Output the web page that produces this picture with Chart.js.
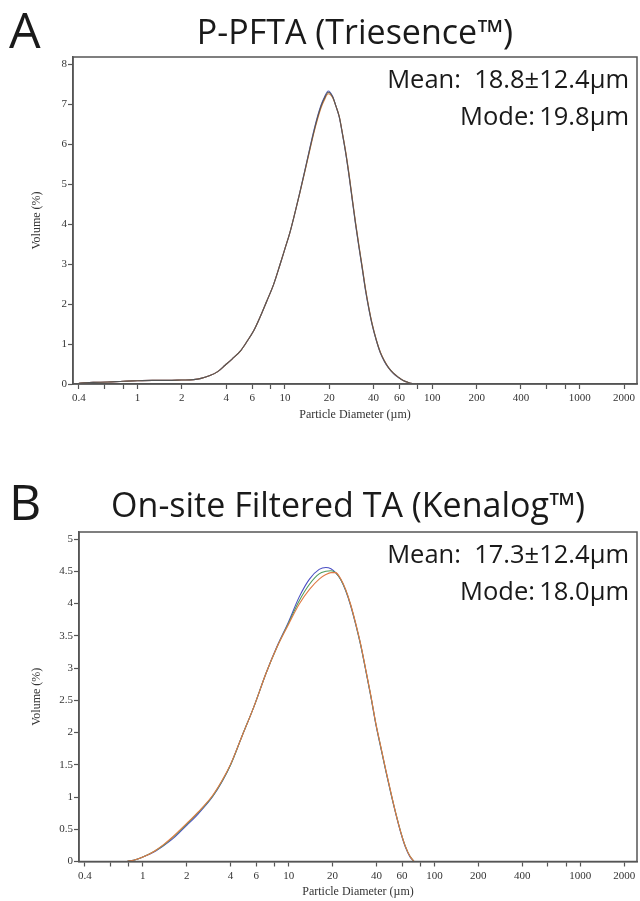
<!DOCTYPE html>
<html>
<head>
<meta charset="utf-8">
<title>Particle size distribution</title>
<script src="https://cdn.jsdelivr.net/npm/chart.js@4.4.0/dist/chart.umd.min.js"></script>
<style>
  body { margin: 0; background: #fff; }
  canvas { display: block; }
</style>
</head>
<body>
<canvas id="chartA" width="640" height="450"></canvas>
<canvas id="chartB" width="640" height="451"></canvas>

<script>
// ---- data ----
// panel A: P-PFTA (Triesence), three overlapping runs
const diamA = [0.4, 0.5, 0.63, 0.8, 1.0, 1.26, 1.6, 2.0, 2.4, 2.7, 3.1, 3.5, 3.93, 4.4, 5.0, 5.5, 6.14, 6.8, 7.53, 8.4,
  9.27, 10.0, 10.8, 11.7, 12.6, 13.6, 14.7, 15.7, 16.7, 17.6, 18.5, 19.7, 21.1, 22.2, 23.4, 24.6, 25.9, 27.3, 28.7, 30.2,
  31.8, 33.5, 35.2, 37.1, 39.1, 41.7, 44.4, 47.4, 50.5, 54.5, 58.9, 63.5, 68.7, 73.5, 78.2];
const volA_grey = [0.02, 0.04, 0.05, 0.07, 0.08, 0.09, 0.09, 0.10, 0.11, 0.14, 0.21, 0.31, 0.47, 0.63, 0.83, 1.05, 1.33, 1.68, 2.07, 2.50,
  2.99, 3.38, 3.78, 4.28, 4.77, 5.30, 5.85, 6.30, 6.68, 6.95, 7.14, 7.30, 7.18, 6.95, 6.68, 6.25, 5.77, 5.20, 4.60, 4.00,
  3.44, 2.90, 2.37, 1.90, 1.49, 1.10, 0.79, 0.57, 0.41, 0.27, 0.17, 0.09, 0.04, 0.01, 0];
const volA_orange = [0.02, 0.04, 0.05, 0.07, 0.08, 0.09, 0.09, 0.10, 0.11, 0.14, 0.21, 0.31, 0.47, 0.63, 0.83, 1.05, 1.33, 1.68, 2.07, 2.50,
  2.99, 3.38, 3.78, 4.28, 4.76, 5.28, 5.82, 6.27, 6.64, 6.91, 7.10, 7.26, 7.16, 6.95, 6.69, 6.27, 5.80, 5.23, 4.63, 4.03,
  3.47, 2.93, 2.40, 1.92, 1.51, 1.11, 0.80, 0.58, 0.41, 0.27, 0.17, 0.09, 0.04, 0.01, 0];
const volA_blue = [0.02, 0.04, 0.05, 0.07, 0.08, 0.09, 0.09, 0.10, 0.11, 0.14, 0.21, 0.31, 0.47, 0.63, 0.83, 1.05, 1.33, 1.68, 2.07, 2.50,
  2.99, 3.38, 3.78, 4.28, 4.78, 5.31, 5.87, 6.33, 6.71, 6.98, 7.17, 7.33, 7.19, 6.95, 6.67, 6.24, 5.76, 5.18, 4.58, 3.98,
  3.42, 2.88, 2.35, 1.88, 1.48, 1.09, 0.78, 0.56, 0.40, 0.26, 0.16, 0.09, 0.04, 0.01, 0];

// panel B: on-site filtered TA (Kenalog), three runs
const diamB = [0.78, 0.9, 1.0, 1.2, 1.4, 1.6, 1.8, 2.0, 2.4, 3.0, 3.5, 4.0, 4.8, 5.8, 7.0, 8.3, 10, 11.8, 13.9, 16.2,
  18.0, 19.5, 21.0, 22.8, 24.6, 26.6, 28.8, 31.2, 33.8, 36.6, 39.6, 42.9, 46.4, 50.2, 54.3, 58.7, 63.3, 68.0, 72.5];
const volB_blue = [0, 0.03, 0.07, 0.15, 0.25, 0.35, 0.46, 0.56, 0.74, 1.00, 1.24, 1.50, 1.95, 2.41, 2.92, 3.33, 3.72, 4.10, 4.38, 4.53,
  4.56, 4.54, 4.48, 4.37, 4.20, 3.97, 3.68, 3.35, 2.96, 2.56, 2.13, 1.76, 1.40, 1.06, 0.74, 0.45, 0.22, 0.07, 0];
const volB_green = [0, 0.03, 0.07, 0.16, 0.26, 0.37, 0.48, 0.58, 0.76, 1.01, 1.25, 1.50, 1.95, 2.41, 2.92, 3.32, 3.70, 4.04, 4.30, 4.46,
  4.50, 4.51, 4.48, 4.37, 4.21, 3.98, 3.69, 3.36, 2.97, 2.57, 2.14, 1.77, 1.41, 1.07, 0.75, 0.46, 0.23, 0.08, 0];
const volB_orange = [0, 0.03, 0.07, 0.16, 0.27, 0.38, 0.49, 0.59, 0.77, 1.02, 1.26, 1.51, 1.95, 2.41, 2.92, 3.32, 3.68, 3.99, 4.22, 4.38,
  4.45, 4.48, 4.48, 4.38, 4.22, 3.99, 3.70, 3.37, 2.98, 2.58, 2.15, 1.78, 1.42, 1.08, 0.75, 0.46, 0.23, 0.08, 0];

// axis ticks
const xTicks = [0.4, 0.6, 0.8, 1, 2, 4, 6, 8, 10, 20, 40, 60, 80, 100, 200, 400, 600, 800, 1000, 2000];
const xLabels = [0.4, 1, 2, 4, 6, 10, 20, 40, 60, 100, 200, 400, 1000, 2000];
const yTicksA = [0, 1, 2, 3, 4, 5, 6, 7, 8];
const yTicksB = [0, 0.5, 1, 1.5, 2, 2.5, 3, 3.5, 4, 4.5, 5];

const axisColor = '#555';
const serif = '"Liberation Serif", "Times New Roman", serif';
const sans = '"Open Sans", "Noto Sans", sans-serif';

function pts(xs, ys) {
  return xs.map((x, i) => ({ x: x, y: ys[i] }));
}

function line(label, xs, ys, color) {
  return {
    label: label,
    data: pts(xs, ys),
    borderColor: color,
    borderWidth: 1.1,
    pointRadius: 0,
    cubicInterpolationMode: 'monotone',
    fill: false
  };
}

// frame + panel letter, title, mean/mode text
const decor = {
  id: 'decor',
  afterDraw(chart, args, o) {
    const ctx = chart.ctx, a = chart.chartArea;
    ctx.save();
    ctx.strokeStyle = axisColor;
    ctx.lineWidth = 1.5;
    ctx.strokeRect(a.left, a.top, a.right - a.left, a.bottom - a.top);
    ctx.fillStyle = '#1a1a1a';
    ctx.textBaseline = 'alphabetic';
    ctx.font = '50px ' + sans;
    ctx.textAlign = 'left';
    ctx.fillText(o.letter, o.letterX, o.letterY);
    ctx.font = '34px ' + sans;
    ctx.textAlign = 'center';
    ctx.fillText(o.title, (a.left + a.right) / 2 + o.titleDX, o.titleY);
    ctx.font = '25.5px ' + sans;
    ctx.textAlign = 'right';
    ctx.fillText(o.mean, a.right - 8, a.top + 31);
    ctx.fillText(o.mode, a.right - 8, a.top + 68);
    ctx.restore();
  }
};

function makeChart(id, datasets, opt) {
  return new Chart(document.getElementById(id), {
    type: 'line',
    data: { datasets: datasets },
    plugins: [decor],
    options: {
      responsive: false,
      animation: false,
      layout: { padding: { top: opt.top, right: 3, left: 0, bottom: 0 } },
      plugins: {
        legend: { display: false },
        tooltip: { enabled: false },
        decor: opt.decor
      },
      scales: {
        x: {
          type: 'logarithmic',
          min: 0.365,
          max: 2450,
          afterFit: s => { s.height = opt.xH; },
          afterBuildTicks: s => { s.ticks = xTicks.map(v => ({ value: v })); },
          border: { color: axisColor, width: 1.5 },
          grid: { drawOnChartArea: false, color: axisColor, tickLength: 5, tickWidth: 1.2 },
          ticks: {
            autoSkip: false, maxRotation: 0, padding: 3,
            color: '#333', font: { family: serif, size: 11 },
            callback: v => xLabels.includes(v) ? String(v) : ''
          },
          title: {
            display: true, text: 'Particle Diameter (\u00b5m)',
            color: '#333', font: { family: serif, size: 12 },
            padding: { top: 0, bottom: opt.xTitlePad }
          }
        },
        y: {
          min: 0,
          max: opt.yMax,
          afterFit: s => { s.width = opt.yW; },
          afterBuildTicks: s => { s.ticks = opt.yTicks.map(v => ({ value: v })); },
          border: { color: axisColor, width: 1.5 },
          grid: { drawOnChartArea: false, color: axisColor, tickLength: 5, tickWidth: 1.2 },
          ticks: { padding: 1, color: '#333', font: { family: serif, size: 11 }, callback: v => String(v) },
          title: {
            display: true, text: 'Volume (%)',
            color: '#333', font: { family: serif, size: 12 },
            padding: { top: 30, bottom: 0 }
          }
        }
      }
    }
  });
}

makeChart('chartA', [
  line('run 1', diamA, volA_grey, '#555555'),
  line('run 2', diamA, volA_orange, '#d9823f'),
  line('run 3', diamA, volA_blue, '#5a64b8')
], {
  top: 57, xH: 66, xTitlePad: 28, yW: 73, yMax: 8.18, yTicks: yTicksA,
  decor: { letter: 'A', letterX: 9, letterY: 48, title: 'P-PFTA (Triesence\u2122)', titleY: 44, titleDX: 0,
           mean: 'Mean:  18.8\u00b112.4\u00b5m', mode: 'Mode:\u200919.8\u00b5m' }
});

makeChart('chartB', [
  line('run 1', diamB, volB_orange, '#e07a45'),
  line('run 2', diamB, volB_green, '#4f9a5c'),
  line('run 3', diamB, volB_blue, '#4b4fc4')
], {
  top: 82, xH: 39.5, xTitlePad: 2, yW: 79, yMax: 5.11, yTicks: yTicksB,
  decor: { letter: 'B', letterX: 9, letterY: 70, title: 'On-site Filtered TA (Kenalog\u2122)', titleY: 67, titleDX: -10,
           mean: 'Mean:  17.3\u00b112.4\u00b5m', mode: 'Mode:\u200918.0\u00b5m' }
});
</script>
</body>
</html>
